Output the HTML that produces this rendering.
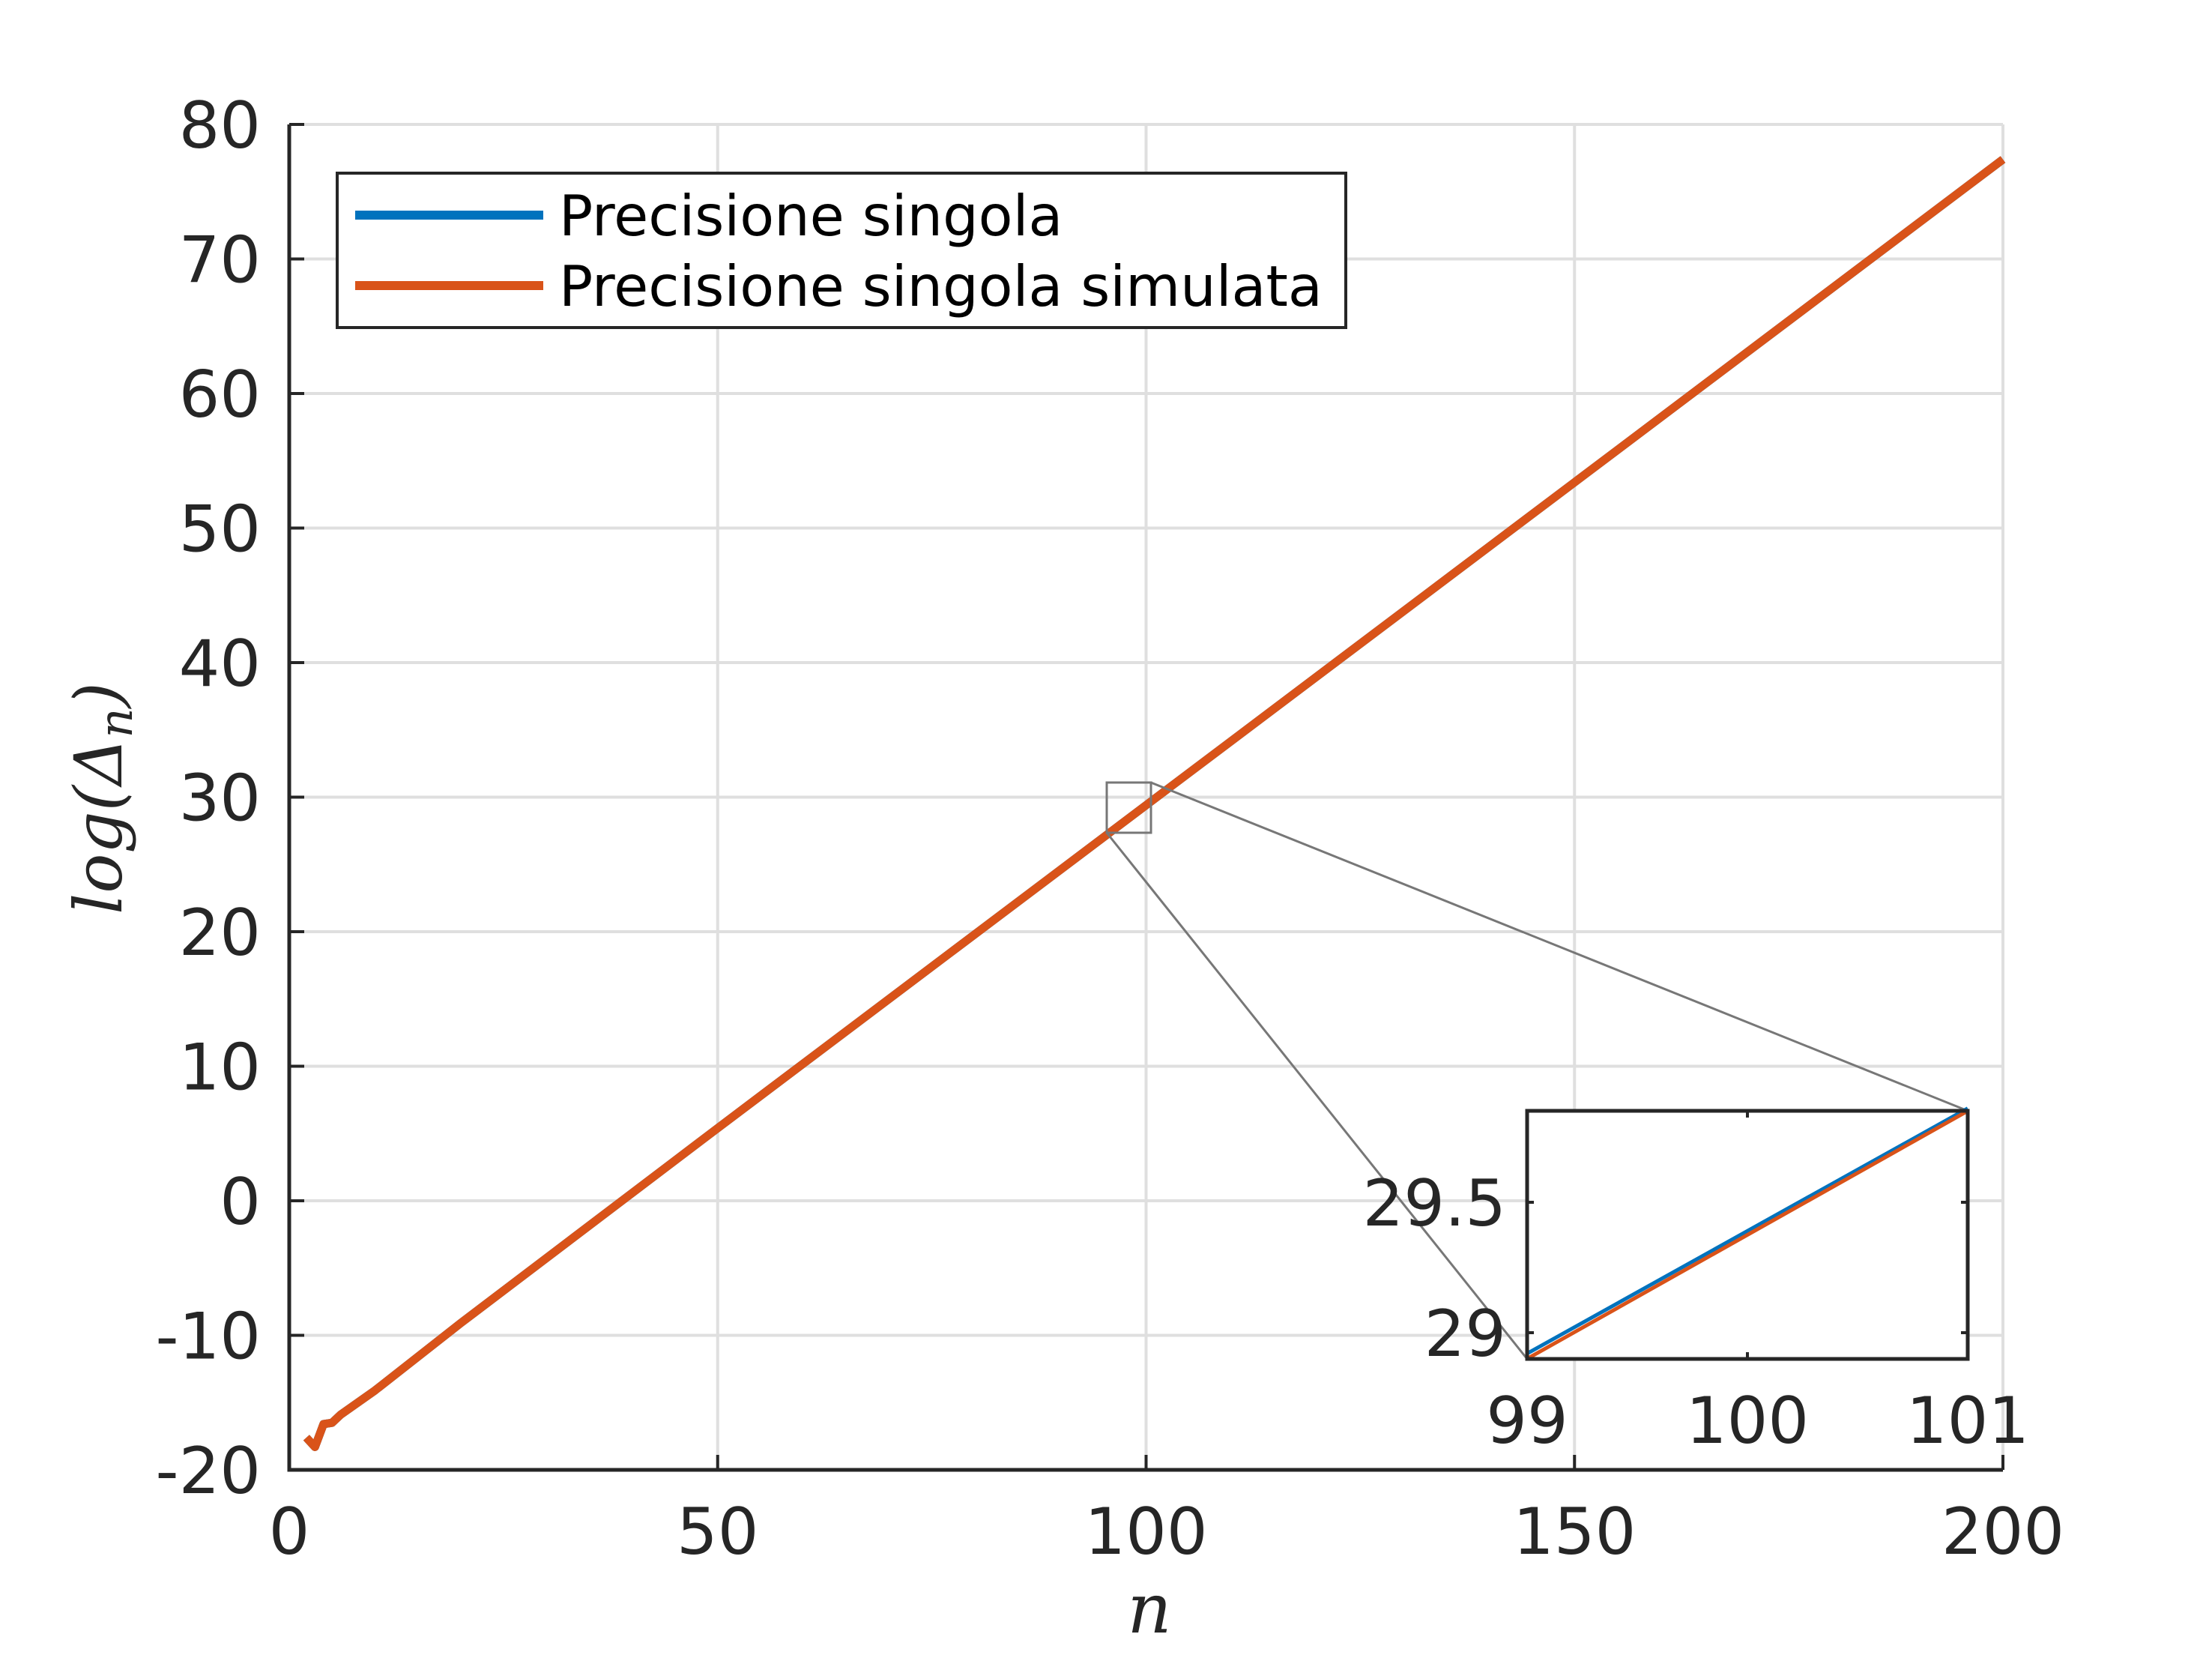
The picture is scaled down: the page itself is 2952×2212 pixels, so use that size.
<!DOCTYPE html>
<html><head><meta charset="utf-8"><style>
html,body{margin:0;padding:0;background:#fff;}
svg{display:block;}
text{font-family:"DejaVu Sans","Liberation Sans",sans-serif;fill:#262626;}
</style></head><body>
<svg id="chart" width="2952" height="2212" viewBox="0 0 2952 2212" xmlns="http://www.w3.org/2000/svg">
<rect width="2952" height="2212" fill="#fff"/>
<g id="grid"></g>
<g id="series"></g>
<g id="axes"></g>
<g id="zoombox"></g>
<g id="inset"></g>
<g id="legend">
  <rect x="450" y="231" width="1346" height="206" fill="#fff" stroke="#262626" stroke-width="4"/>
  <line x1="474" y1="287" x2="725" y2="287" stroke="#0072BD" stroke-width="12"/>
  <text x="746" y="314" font-size="75" style="fill:#000">Precisione singola</text>
  <line x1="474" y1="381" x2="725" y2="381" stroke="#D95319" stroke-width="12"/>
  <text x="746" y="408" font-size="75" style="fill:#000">Precisione singola simulata</text>
</g>
<text x="1534" y="2178" font-size="92" text-anchor="middle" style="font-family:'DejaVu Serif','Liberation Serif',serif;font-style:italic">n</text>
<text transform="translate(162,1065) rotate(-90)" font-size="88" text-anchor="middle" style="font-family:'DejaVu Serif','Liberation Serif',serif;font-style:italic">log(Δ<tspan font-size="62" dy="14">n</tspan><tspan dy="-14">)</tspan></text>
</svg>
<script>
const xTicks=[0,50,100,150,200];
const yTicks=[-20,-10,0,10,20,30,40,50,60,70,80];
const nVals=[2,3,4,5,6,8,10,20,50,100,150,200];
const singleVals=[-17.6,-18.3,-16.6,-16.5,-15.9,-15.0,-14.1,-9.1,5.4,29.4,53.4,77.4];
const simulatedVals=[-17.6,-18.3,-16.6,-16.5,-15.9,-15.0,-14.1,-9.1,5.4,29.4,53.4,77.4];
const insetN=[99,101];
const insetSingle=[28.92,29.86];
const insetSimulated=[28.9,29.85];
const insetXTicks=[99,100,101];
const insetYTicks=[29,29.5];

const NS='http://www.w3.org/2000/svg';
function mk(tag,attrs,parent){const e=document.createElementNS(NS,tag);for(const k in attrs)e.setAttribute(k,attrs[k]);parent.appendChild(e);return e;}
const L=386,R=2673,T=166,B=1961;
const X=v=>L+(v-0)/(200-0)*(R-L);
const Y=v=>B-(v+20)/100*(B-T);
const grid=document.getElementById('grid'),axes=document.getElementById('axes'),series=document.getElementById('series');
xTicks.forEach(t=>{
  if(t>0){const g=mk('line',{x1:X(t),x2:X(t),y1:T,y2:B,stroke:'#dfdfdf','stroke-width':4},grid);
  
  }
  const tk=mk('line',{x1:X(t),x2:X(t),y1:B,y2:B-20,stroke:'#262626','stroke-width':4},axes);
  
  
  const lb=mk('text',{x:X(t),y:2073,'font-size':86,'text-anchor':'middle'},axes);lb.textContent=t;
  
  
});
yTicks.forEach(t=>{
  if(t>-20){const g=mk('line',{x1:L,x2:R,y1:Y(t),y2:Y(t),stroke:'#dfdfdf','stroke-width':4},grid);
  
  }
  const tk=mk('line',{x1:L,x2:L+20,y1:Y(t),y2:Y(t),stroke:'#262626','stroke-width':4},axes);
  
  
  const lb=mk('text',{x:348,y:Y(t)+31,'font-size':86,'text-anchor':'end'},axes);lb.textContent=t;
  
  
});
const ax=mk('path',{d:`M${L},${T}V${B}H${R}`,fill:'none',stroke:'#262626','stroke-width':5},axes);


function poly(xs,ys,fx,fy,color,w,parent){return mk('polyline',{points:xs.map((n,i)=>fx(n)+','+fy(ys[i])).join(' '),fill:'none',stroke:color,'stroke-width':w,'stroke-linejoin':'round'},parent);}
const s1=poly(nVals,singleVals,X,Y,'#0072BD',11,series);


const s2=poly(nVals,simulatedVals,X,Y,'#D95319',11,series);


const zb=document.getElementById('zoombox');
const IL=2038,IR=2626,IT=1482,IB=1813;
const zr=mk('rect',{x:1477,y:1044,width:59,height:67,fill:'none',stroke:'#777','stroke-width':3},zb);


const c1=mk('line',{x1:1536,y1:1044,x2:IR,y2:IT,stroke:'#777','stroke-width':3},zb);


const c2=mk('line',{x1:1477,y1:1111,x2:IL,y2:IB,stroke:'#777','stroke-width':3},zb);


const ins=document.getElementById('inset');
const IX=v=>IL+(v-99)/2*(IR-IL);
const IY=v=>1604-(v-29.5)/0.5*(1778-1604);
const ib=mk('rect',{x:IL,y:IT,width:IR-IL,height:IB-IT,fill:'#fff',stroke:'none'},ins);


const i1=poly(insetN,insetSingle,IX,IY,'#0072BD',5,ins);


const i2=poly(insetN,insetSimulated,IX,IY,'#D95319',5,ins);


insetXTicks.forEach(t=>{
  const a=mk('path',{d:`M${IX(t)},${IB}v-9M${IX(t)},${IT}v9`,stroke:'#262626','stroke-width':4},ins);
  
  
  const lb=mk('text',{x:IX(t),y:1925,'font-size':86,'text-anchor':'middle'},ins);lb.textContent=t;
  
  
});
insetYTicks.forEach(t=>{
  const a=mk('path',{d:`M${IL},${IY(t)}h9M${IR},${IY(t)}h-9`,stroke:'#262626','stroke-width':4},ins);
  
  
  const lb=mk('text',{x:2010,y:IY(t)+31,'font-size':86,'text-anchor':'end'},ins);lb.textContent=t;
  
  
});
const ifr=mk('rect',{x:IL,y:IT,width:IR-IL,height:IB-IT,fill:'none',stroke:'#262626','stroke-width':5},ins);


</script>
</body></html>
